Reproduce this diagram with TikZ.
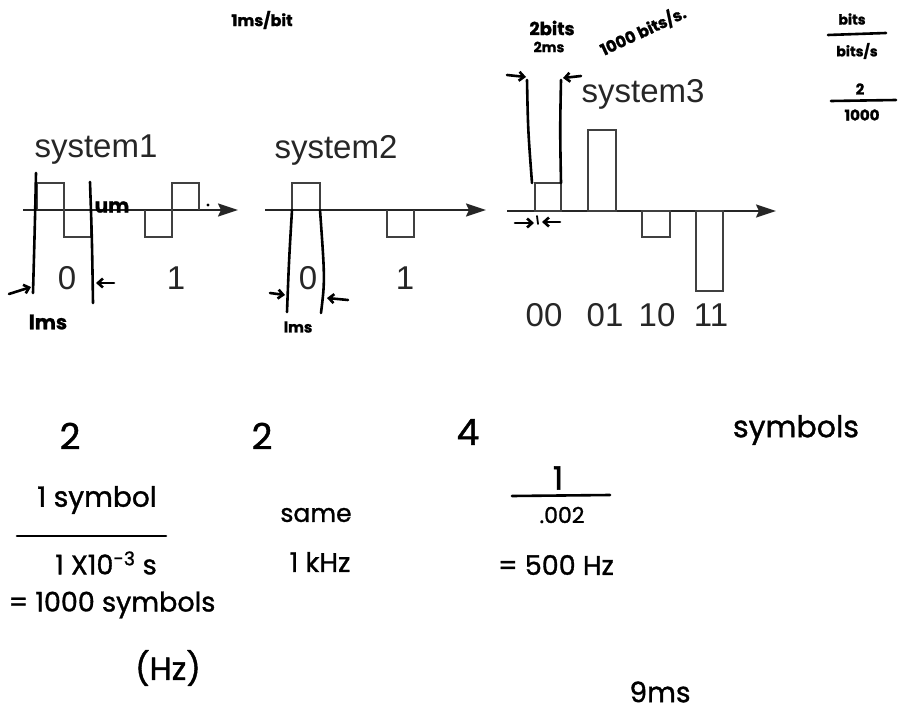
\documentclass[tikz,border=0pt]{standalone}
\usepackage{fontspec}
\setmainfont{Liberation Sans}
\newfontfamily\hand{Poppins}[FakeBold=1.2]
\usetikzlibrary{arrows.meta}
\begin{document}
\begin{tikzpicture}[x=1pt,y=-1pt,
  printed/.style={font=\fontsize{33}{33}\selectfont, text=black!85, inner sep=0pt},
  hw/.style={font=\hand\fontsize{#1}{#1}\selectfont, inner sep=0pt},
  hw/.default=24,
  hwb/.style={font=\hand\bfseries\fontsize{#1}{#1}\selectfont, inner sep=0pt},
  hwb/.default=16,
  axis/.style={line width=1.7pt, draw=black!85, -{Stealth[length=20pt,width=13pt,inset=3pt]}},
  wave/.style={line width=1.3pt, draw=black!75},
  hand/.style={line width=2.6pt, line cap=round, line join=round},
  harrow/.style={hand, -{Straight Barb[length=5pt,width=9pt]}}]
\useasboundingbox (0,0) rectangle (907,719);
\fill[white] (0,0) rectangle (907,719);

% ---------- system 1 ----------
\node[printed] (s1) at (96,150) {system1};
\coordinate (a1s) at (23,210); \coordinate (a1e) at (238,210);
\draw[axis] (a1s) -- (a1e);
\draw[wave] (37,210) -- (37,183) -- (64,183) -- (64,237) -- (91,237) -- (91,210);
\draw[wave] (145,210) -- (145,237) -- (172,237) -- (172,183) -- (199,183) -- (199,210);
\node[printed] (s1z) at (67,278) {0};
\node[printed] (s1o) at (176,278) {1};
% handwriting system 1
\draw[hand] (36,173) .. controls (35,220) .. (33,293);
\draw[hand] (90,182) .. controls (92,240) .. (93,303);
\coordinate (h1a) at (9,294); \coordinate (h1b) at (31,287);
\draw[harrow] (h1a) -- (h1b);
\coordinate (h1c) at (114,283); \coordinate (h1d) at (96,283);
\draw[harrow] (h1c) -- (h1d);
\node[hwb=20] (ms1) at (48,322) {lms};
\node[hwb=20] (um) at (112,207) {um};
\fill (208,205) circle (1.6pt);

% ---------- system 2 ----------
\node[printed] (s2) at (336,150) {system2};
\coordinate (a2s) at (265,210); \coordinate (a2e) at (486,210);
\draw[axis] (a2s) -- (a2e);
\draw[wave] (292,210) -- (292,183) -- (320,183) -- (320,210);
\draw[wave] (387,210) -- (387,237) -- (414,237) -- (414,210);
\node[printed] (s2z) at (308,278) {0};
\node[printed] (s2o) at (405,278) {1};
\draw[hand] (292,210) .. controls (289,260) .. (287,312);
\draw[hand] (320,210) .. controls (325,280) .. (321,313);
\coordinate (h2a) at (270,293); \coordinate (h2b) at (285,295);
\draw[harrow] (h2a) -- (h2b);
\coordinate (h2c) at (348,300); \coordinate (h2d) at (327,298);
\draw[harrow] (h2c) -- (h2d);
\node[hwb=15] (ms2) at (298,327) {lms};

% ---------- system 3 ----------
\node[printed] (s3) at (643,94) {system3};
\coordinate (a3s) at (507,211); \coordinate (a3e) at (776,211);
\draw[axis] (a3s) -- (a3e);
\draw[wave] (535,211) rectangle (561,183);
\draw[wave] (588,211) rectangle (616,130);
\draw[wave] (642,211) rectangle (670,237);
\draw[wave] (696,211) rectangle (723,291);
\node[printed] (c00) at (544,315) {00};
\node[printed] (c01) at (605,315) {01};
\node[printed] (c10) at (657,315) {10};
\node[printed] (c11) at (711,315) {11};
\draw[hand] (527,80) .. controls (528,130) .. (532,183);
\draw[hand] (561,80) .. controls (560,130) .. (561,183);
\coordinate (h3a) at (507,75); \coordinate (h3b) at (526,77);
\draw[harrow] (h3a) -- (h3b);
\coordinate (h3c) at (581,76); \coordinate (h3d) at (563,78);
\draw[harrow] (h3c) -- (h3d);
\coordinate (h3e) at (515,223); \coordinate (h3f) at (534,223);
\draw[harrow] (h3e) -- (h3f);
\coordinate (h3g) at (560,222); \coordinate (h3h) at (542,222);
\draw[harrow] (h3g) -- (h3h);
\draw[hand, line width=1.8pt] (537,216) -- (538,224);
\node[hwb=18] (bits2) at (552,28) {2bits};
\node[hwb=14] (ms3) at (549,47) {2ms};
\node[hwb=16, rotate=25] (rate) at (643,31) {1000 bits/s.};
\node[hwb=16] (msbit) at (262,20) {1ms/bit};

% ---------- top right ----------
\node[hwb=14] (tb) at (852,19) {bits};
\coordinate (f1a) at (828,35); \coordinate (f1b) at (886,33);
\draw[hand] (f1a) -- (f1b);
\node[hwb=14] (tbs) at (857,51) {bits/s};
\node[hwb=15] (t2) at (860,89) {2};
\coordinate (f2a) at (831,101); \coordinate (f2b) at (896,100);
\draw[hand] (f2a) -- (f2b);
\node[hwb=15] (t1000) at (862,115) {1000};

% ---------- counts ----------
\node[hw=36] (n1) at (70,436) {2};
\node[hw=36] (n2) at (262,436) {2};
\node[hw=36] (n3) at (468,432) {4};
\node[hw=30] (sym) at (796,430) {symbols};

% ---------- rates ----------
\node[hw=28] (r1num) at (97,500) {1 symbol};
\coordinate (f3a) at (17,536); \coordinate (f3b) at (166,536);
\draw[hand] (f3a) -- (f3b);
\node[hw=27] (r1den) at (106,563) {1 X10\textsuperscript{-3} s};
\node[hw=27] (r1res) at (112,605) {= 1000 symbols};
\node[hw=32] (hz) at (168,668) {(Hz)};

\node[hw=25] (same) at (316,515) {same};
\node[hw=27] (khz) at (320,562) {1 kHz};

\node[hw=32] (r3num) at (558,478) {1};
\coordinate (f4a) at (512,496); \coordinate (f4b) at (610,495);
\draw[hand] (f4a) -- (f4b);
\node[hw=22] (r3den) at (562,515) {.002};
\node[hw=27] (r3res) at (556,565) {= 500 Hz};

\node[hw=28] (nine) at (660,692) {9ms};
\end{tikzpicture}
\end{document}
